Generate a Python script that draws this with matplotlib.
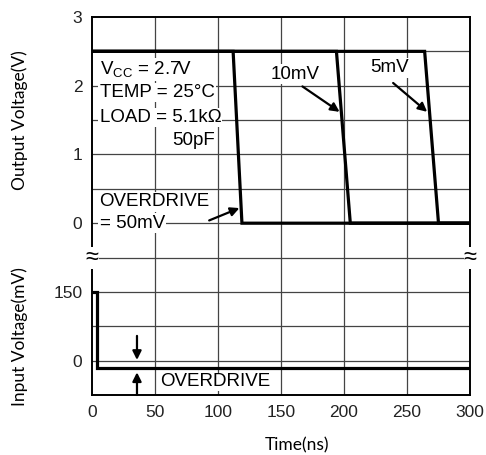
import matplotlib
matplotlib.use('Agg')
import matplotlib.pyplot as plt
import numpy as np

# output waveforms (V) for each overdrive; fall start / end times (ns)
overdrive = ['50mV', '10mV', '5mV']
fall_start = [112, 194, 264]
fall_end = [119, 205, 275]
v_high = 2.5
v_low = 0.0

# input waveform (mV)
t_in = [0, 4, 4, 300]
v_in = [150, 150, -15, -15]

x_ticks = [0, 50, 100, 150, 200, 250, 300]
y_tick_pos = [3, 2, 1, 0, -1, -2]
y_tick_labels = ['3', '2', '1', '0', '150', '0']

plt.rcParams['font.family'] = ['Liberation Sans', 'DejaVu Sans']

fig = plt.figure(figsize=(4.86, 4.55), dpi=100)
ax = fig.add_axes([92/486, 1-395/455, 378/486, 378/455])

ax.set_xlim(0, 300)
ax.set_ylim(-2.5, 3)
ax.set_xticks(x_ticks)
ax.set_yticks(y_tick_pos)
ax.set_yticklabels(y_tick_labels)
ax.tick_params(length=0, labelsize=12.5, pad=7, colors='#222222')
for s in ax.spines.values():
    s.set_linewidth(1.4)

# grid
for gx in np.arange(50, 300, 50):
    ax.axvline(gx, color='#444444', lw=0.9, zorder=0)
for gy in np.arange(-2.0, 2.6, 0.5):
    ax.axhline(gy, color='#444444', lw=0.9, zorder=0)

# input mV -> shared axis units
def mv_to_y(mv):
    return -2 + np.asarray(mv) / 150.0

for t1, t2 in zip(fall_start, fall_end):
    ax.plot([0, t1, t2, 300], [v_high, v_high, v_low, v_low],
            color='k', lw=2.3, solid_joinstyle='miter', zorder=3)

ax.plot(t_in, mv_to_y(v_in), color='k', lw=2.3, solid_joinstyle='miter', zorder=3)

box = dict(facecolor='white', edgecolor='none', pad=1)
fs = 13.5
ax.text(6, 2.23, r'V$_{\mathregular{CC}}$ = 2.7V', fontsize=fs, va='center', bbox=box, zorder=4)
ax.text(6, 1.90, 'TEMP = 25°C', fontsize=fs, va='center', bbox=box, zorder=4)
ax.text(6, 1.54, 'LOAD = 5.1kΩ', fontsize=fs, va='center', bbox=box, zorder=4)
ax.text(64, 1.21, '50pF', fontsize=fs, va='center', bbox=box, zorder=4)
ax.text(6, 0.31, 'OVERDRIVE', fontsize=fs, va='center', bbox=box, zorder=4)
ax.text(6, 0.0, '= 50mV', fontsize=fs, va='center', bbox=box, zorder=4)
ax.text(161, 2.17, '10mV', fontsize=fs, va='center', ha='center', bbox=box, zorder=4)
ax.text(236, 2.26, '5mV', fontsize=fs, va='center', ha='center', bbox=box, zorder=4)
ax.text(54, -2.31, 'OVERDRIVE', fontsize=fs, va='center',
        bbox=dict(facecolor='white', edgecolor='none', pad=0.5), zorder=4)

arr = dict(arrowstyle='-|>', color='k', lw=1.6, mutation_scale=13, shrinkA=0, shrinkB=0)
ax.annotate('', xy=(117, 0.22), xytext=(93, 0.04), arrowprops=arr, zorder=5)
ax.annotate('', xy=(196.5, 1.62), xytext=(167, 1.99), arrowprops=arr, zorder=5)
ax.annotate('', xy=(266, 1.62), xytext=(239, 2.04), arrowprops=arr, zorder=5)
ax.annotate('', xy=(35.7, -1.99), xytext=(35.7, -1.64), arrowprops=arr, zorder=5)
ax.annotate('', xy=(35.7, -2.17), xytext=(35.7, -2.5), arrowprops=arr, zorder=5)

# axis break marks
for xb in (0, 300):
    ax.text(xb, -0.5, '≈', fontsize=17, ha='center', va='center',
            bbox=dict(facecolor='white', edgecolor='none', pad=0), zorder=6, clip_on=False)

lab = ['Lato', 'DejaVu Sans']
fig.text(20/486, 1-120/455, 'Output Voltage(V)', rotation=90, ha='center', va='center',
         fontsize=12.5, family=lab)
fig.text(20/486, 1-337/455, 'Input Voltage(mV)', rotation=90, ha='center', va='center',
         fontsize=12.5, family=lab)
fig.text(297/486, 1-445/455, 'Time(ns)', ha='center', va='center', fontsize=12.5, family=lab)

fig.savefig('out.png', dpi=100)
